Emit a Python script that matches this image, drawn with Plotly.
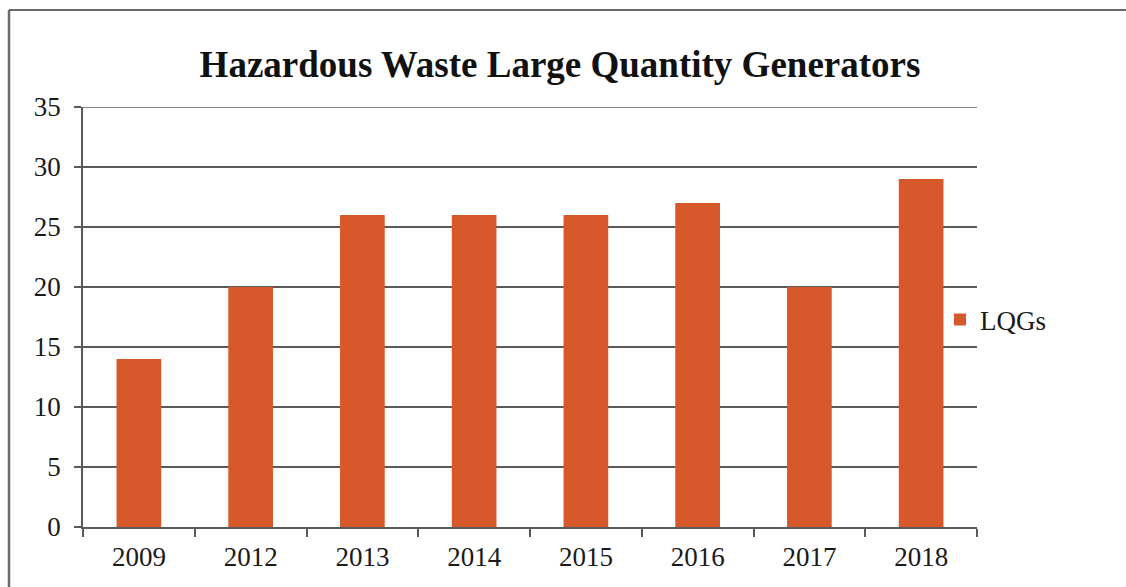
import plotly.graph_objects as go

# Hazardous waste large quantity generators by year
years = ["2009", "2012", "2013", "2014", "2015", "2016", "2017", "2018"]
lqg_counts = [14, 20, 26, 26, 26, 27, 20, 29]
y_ticks = [0, 5, 10, 15, 20, 25, 30, 35]

W, H = 1126, 587
L, R, T, B = 83, 149, 107, 60
plot_w = W - L - R
plot_h = H - T - B

def px_x(px):
    return (px - L) / plot_w

def px_y(py):
    return (H - B - py) / plot_h

bar_color = "#D6582B"
grid_color = "#5A5A5A"
serif = "Liberation Serif"

fig = go.Figure()
fig.add_trace(go.Bar(
    x=years,
    y=lqg_counts,
    name="LQGs",
    marker=dict(color=bar_color, line=dict(width=0)),
    showlegend=True,
))

fig.update_layout(
    width=W,
    height=H,
    margin=dict(l=L, r=R, t=T, b=B),
    paper_bgcolor="white",
    plot_bgcolor="white",
    bargap=0.6,
    title=dict(
        text="<b>Hazardous Waste Large Quantity Generators</b>",
        font=dict(family=serif, size=37, color="#111111"),
        x=px_x(560), xanchor="center", xref="paper",
        y=1 - 64 / H, yanchor="middle",
    ),
    font=dict(family=serif, size=27, color="#1a1a1a"),
    legend=dict(
        x=px_x(940), xanchor="left",
        y=px_y(320), yanchor="middle",
        bgcolor="rgba(0,0,0,0)",
        font=dict(family=serif, size=27, color="#1a1a1a"),
        itemwidth=30,
    ),
    xaxis=dict(
        showgrid=False,
        showline=True, linecolor=grid_color, linewidth=1.5,
        ticks="outside", tickson="boundaries", ticklen=8,
        tickcolor=grid_color, tickwidth=1.5,
        ticklabelstandoff=5,
        tickfont=dict(family=serif, size=27, color="#1a1a1a"),
    ),
    yaxis=dict(
        range=[0, 35],
        tickvals=y_ticks,
        showgrid=True, gridcolor=grid_color, gridwidth=1.5,
        showline=True, linecolor=grid_color, linewidth=1.5,
        ticks="outside", ticklen=7, tickcolor=grid_color, tickwidth=1.5,
        ticklabelstandoff=8,
        tickfont=dict(family=serif, size=27, color="#1a1a1a"),
        zeroline=False,
    ),
    shapes=[
        # top gridline at the end of the value range
        dict(type="line", xref="paper", yref="y",
             x0=0, x1=1, y0=35, y1=35,
             line=dict(color=grid_color, width=1.5)),
        # outer frame: left and top edges
        dict(type="line", xref="paper", yref="paper",
             x0=px_x(9), x1=px_x(9), y0=px_y(10), y1=px_y(600),
             line=dict(color="#6a6a6a", width=2.5)),
        dict(type="line", xref="paper", yref="paper",
             x0=px_x(9), x1=px_x(1130), y0=px_y(10), y1=px_y(10),
             line=dict(color="#6a6a6a", width=2)),
    ],
)

fig.write_html("out.html")
